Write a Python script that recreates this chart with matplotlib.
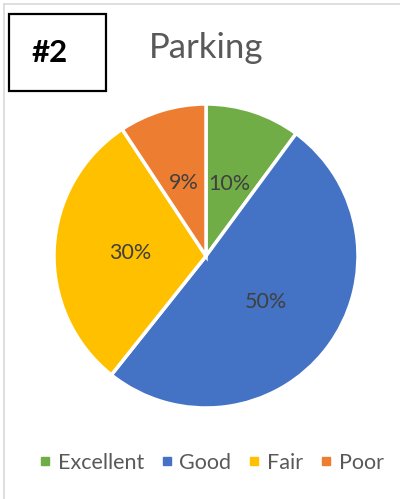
import numpy as np
import matplotlib.pyplot as plt
from matplotlib.patches import Rectangle
from matplotlib.lines import Line2D

plt.rcParams['font.family'] = ['Lato', 'DejaVu Sans']

categories = ['Excellent', 'Good', 'Fair', 'Poor']
values = [10.1, 50.6, 30.0, 9.3]
pct_labels = ['10%', '50%', '30%', '9%']
colors = ['#70AD47', '#4472C4', '#FFC000', '#ED7D31']

W, H = 400, 499
fig = plt.figure(figsize=(W / 100, H / 100), dpi=100)

# outer chart frame (only left/top edges fall inside the crop)
fig.add_artist(Line2D([3.5 / W, 3.5 / W], [0, 1 - 3.5 / H], color='#D9D9D9', lw=1.2))
fig.add_artist(Line2D([3.5 / W, 1], [1 - 3.5 / H, 1 - 3.5 / H], color='#D9D9D9', lw=1.2))

# "#2" box
fig.add_artist(Rectangle((9 / W, 1 - 91 / H), 97 / W, 77 / H, fill=False,
                         edgecolor='black', lw=1.6, transform=fig.transFigure))
fig.text(50 / W, 1 - 53 / H, '#2', fontsize=22.5, fontweight='bold',
         ha='center', va='center', color='black')

fig.text(149 / W, 1 - 48 / H, 'Parking', fontsize=25, color='#595959',
         ha='left', va='center')

# pie: centre (206, 256), radius 152 px
cx, cy, r = 206, 256, 152
ax = fig.add_axes([(cx - r) / W, 1 - (cy + r) / H, 2 * r / W, 2 * r / H])
wedges, _ = ax.pie(values, colors=colors, startangle=90, counterclock=False,
                   wedgeprops=dict(edgecolor='white', linewidth=2.5))
for w, lab in zip(wedges, pct_labels):
    ang = np.deg2rad((w.theta1 + w.theta2) / 2)
    ax.text(0.5 * np.cos(ang), 0.5 * np.sin(ang), lab, ha='center', va='center',
            fontsize=15.5, color='#404040')
ax.set_xlim(-1, 1)
ax.set_ylim(-1, 1)
ax.set_aspect('equal')

handles = [Line2D([], [], marker='s', ls='', markersize=5.2, color=c) for c in colors]
fig.legend(handles, categories, loc='center', bbox_to_anchor=(211 / W, 1 - 463 / H),
           ncol=4, frameon=False, fontsize=15.5, labelcolor='#595959',
           handlelength=0.6, handletextpad=0.3, columnspacing=0.75,
           borderpad=0, borderaxespad=0)

fig.savefig('out.png', dpi=100)
